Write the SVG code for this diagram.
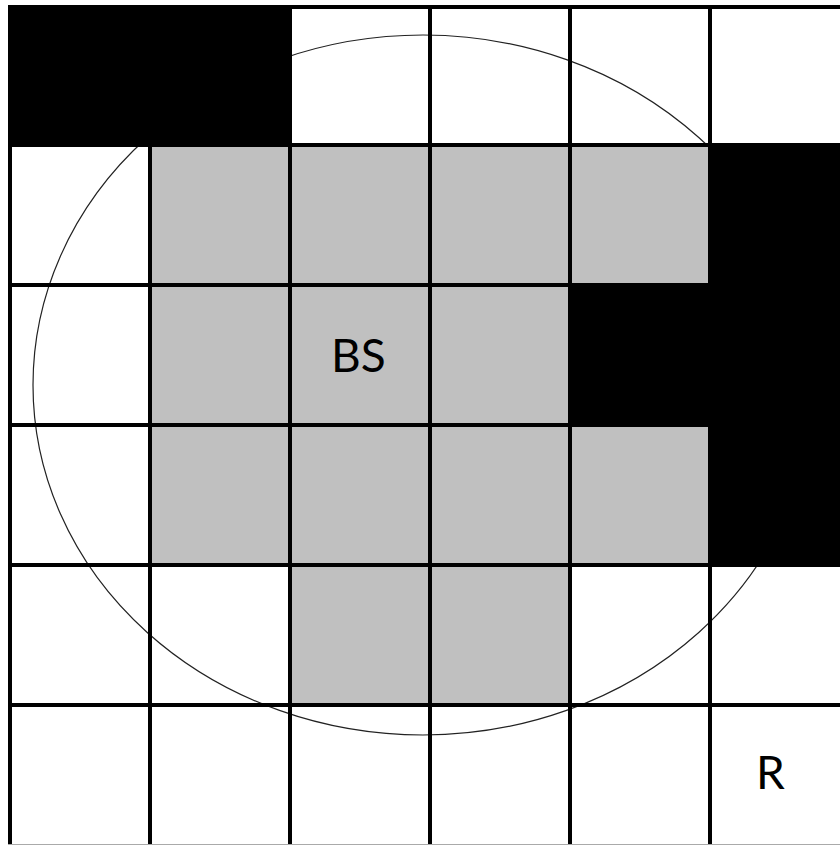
<svg xmlns="http://www.w3.org/2000/svg" width="840" height="845" viewBox="0 0 840 845">
  <style>
    .blk { fill: #000000; }
    .gry { fill: #c0c0c0; }
    .grid line { stroke: #000000; stroke-width: 4; }
    .lbl { font-family: Lato, "Open Sans", sans-serif; font-size: 46px; fill: #000000; }
  </style>
  <rect x="0" y="0" width="840" height="845" fill="#ffffff"/>
  <g id="coverage">
    <ellipse cx="423" cy="385" rx="390" ry="350" fill="none" stroke="#222222" stroke-width="1.2"/>
  </g>
  <g id="cells">
    <rect class="blk" x="8" y="5" width="282" height="140"/>
    <rect class="blk" x="710" y="145" width="130" height="420"/>
    <rect class="blk" x="570" y="285" width="140" height="140"/>
    <rect class="gry" x="150" y="145" width="560" height="140"/>
    <rect class="gry" x="150" y="285" width="420" height="140"/>
    <rect class="gry" x="150" y="425" width="560" height="140"/>
    <rect class="gry" x="290" y="565" width="280" height="140"/>
  </g>
  <g id="grid" class="grid">
    <line x1="10" y1="5" x2="10" y2="845"/>
    <line x1="150" y1="5" x2="150" y2="845"/>
    <line x1="290" y1="5" x2="290" y2="845"/>
    <line x1="430" y1="5" x2="430" y2="845"/>
    <line x1="570" y1="5" x2="570" y2="845"/>
    <line x1="710" y1="5" x2="710" y2="845"/>
    <line x1="8" y1="7" x2="840" y2="7"/>
    <line x1="8" y1="145" x2="840" y2="145"/>
    <line x1="8" y1="285" x2="840" y2="285"/>
    <line x1="8" y1="425" x2="840" y2="425"/>
    <line x1="8" y1="565" x2="840" y2="565"/>
    <line x1="8" y1="705" x2="840" y2="705"/>
  </g>
  <line x1="8" y1="844.5" x2="840" y2="844.5" stroke="#aaaaaa" stroke-width="1"/>
  <g id="node-bs">
    <text class="lbl" x="331" y="372">BS</text>
  </g>
  <g id="node-r">
    <text class="lbl" x="756" y="789">R</text>
  </g>
</svg>
